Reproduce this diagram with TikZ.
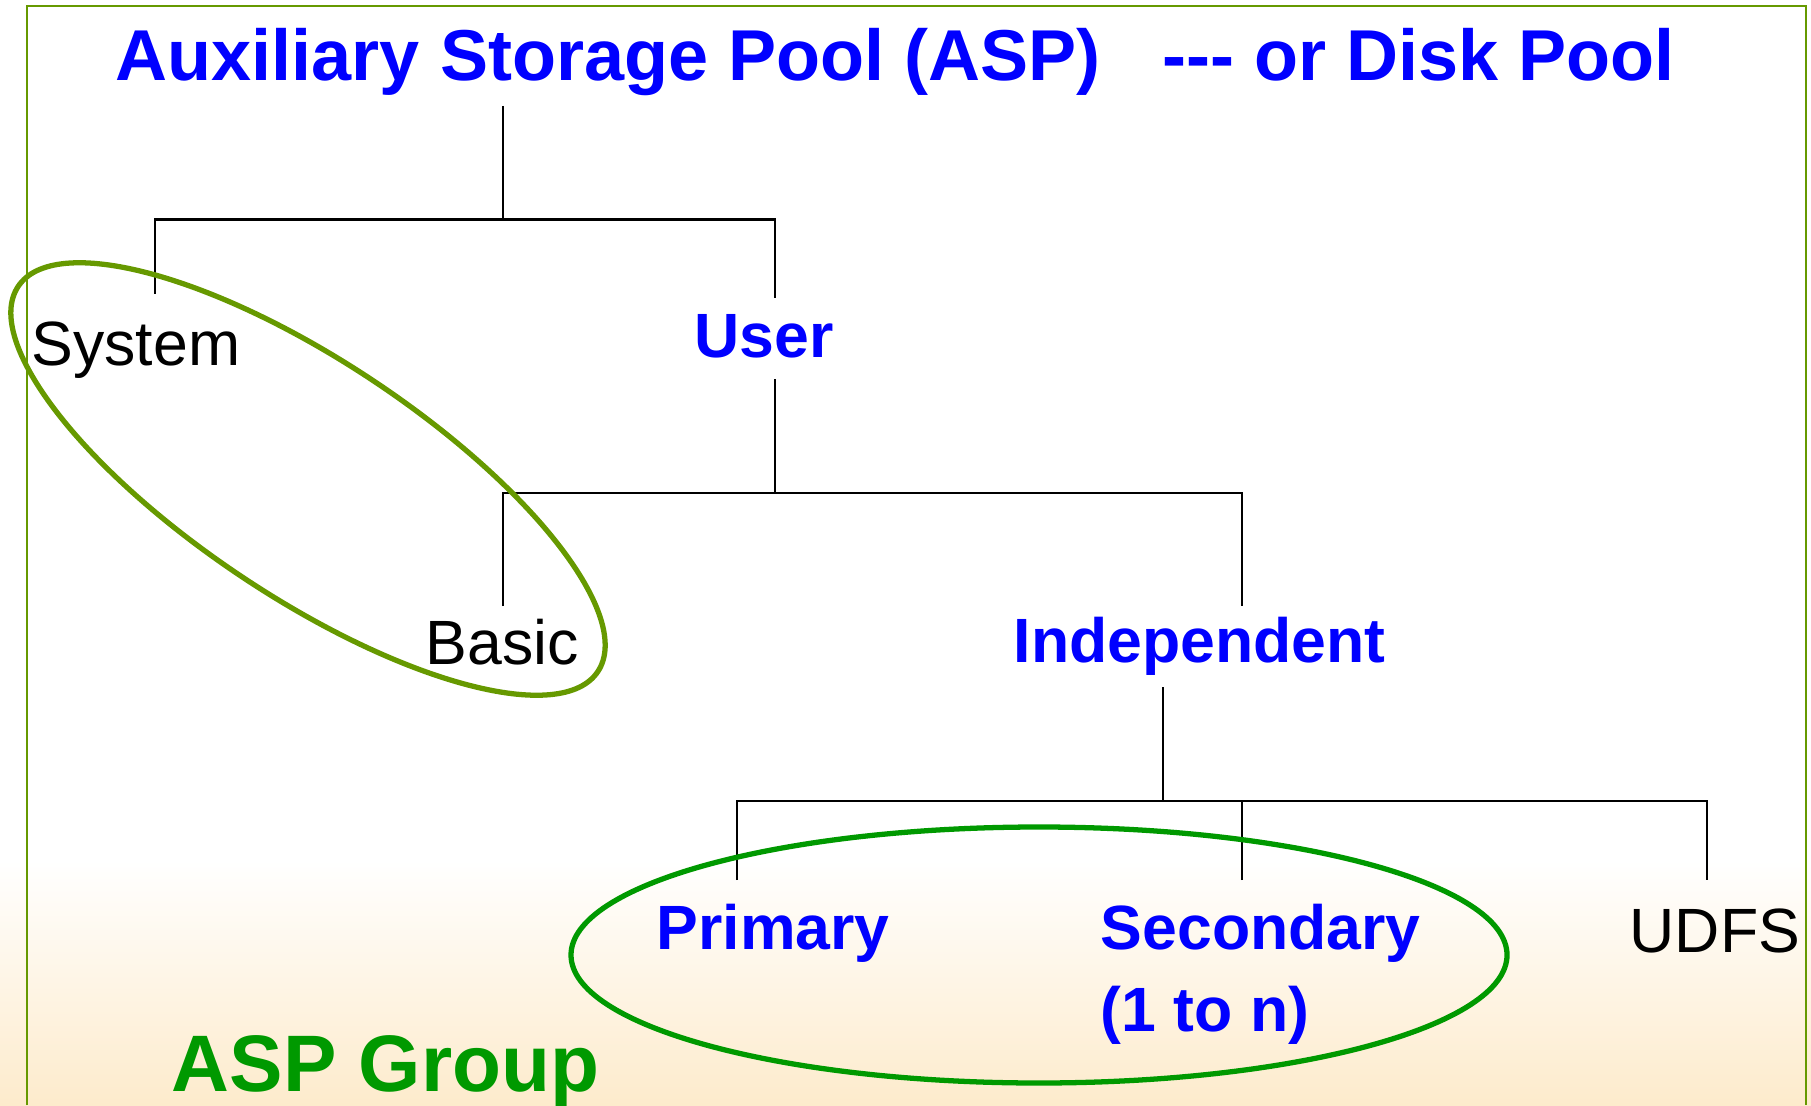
\documentclass[tikz,border=0pt]{standalone}
\usepackage{fontspec}
\setmainfont{Liberation Sans}
\usepackage{tikz}

\definecolor{aspblue}{RGB}{0,0,255}
\definecolor{aspgreen}{RGB}{0,153,0}
\definecolor{aspolive}{RGB}{102,153,0}
\definecolor{aspcream}{RGB}{253,235,204}

\begin{document}
\begin{tikzpicture}[>=latex,
		every node/.style={inner sep=0pt, anchor=base west, font=\fontsize{17.8}{21}\selectfont},
		pool/.style={text=aspblue, font=\fontsize{17.8}{21}\selectfont\bfseries},
		plain/.style={text=black},
		branch/.style={black, line width=0.7pt}]
	\useasboundingbox (0,0) rectangle (18.11,11.05);
	\shade[top color=white, bottom color=aspcream] (0,0) rectangle (18.11,2.45);
	\draw[aspolive, line width=0.7pt] (0.27,0) -- (0.27,10.99) -- (18.06,10.99) -- (18.06,0);

	\node[text=aspblue, font=\fontsize{20.5}{24}\selectfont\bfseries] (title) at (1.15,10.24)
		{Auxiliary Storage Pool (ASP)\hspace{0.62cm}{-}{-}{-} or Disk Pool};

	\node[plain] (sys) at (0.31,7.40) {System};
	\node[pool] (user) at (6.94,7.47) {User};
	\node[plain] (basic) at (4.25,4.41) {Basic};
	\node[pool] (ind) at (10.13,4.43) {Independent};
	\node[pool] (pri) at (6.56,1.56) {Primary};
	\node[pool] (sec) at (11.00,1.56) {Secondary};
	\node[pool] (secn) at (11.00,0.74) {(1 to n)};
	\node[plain] (udfs) at (16.29,1.53) {UDFS};
	\node[text=aspgreen, font=\fontsize{22.8}{27}\selectfont\bfseries] (grp) at (1.71,0.14) {ASP Group};

	\coordinate (tfoot) at (5.03,9.99);
	\coordinate (j1) at (5.03,8.855);
	\coordinate (systop) at (1.55,8.11);
	\coordinate (usertop) at (7.75,8.07);
	\coordinate (userfoot) at (7.75,7.26);
	\coordinate (j2) at (7.75,6.12);
	\coordinate (basictop) at (5.03,4.99);
	\coordinate (indtop) at (12.42,4.99);
	\coordinate (indfoot) at (11.63,4.18);
	\coordinate (j3) at (11.63,3.04);
	\coordinate (pritop) at (7.37,2.25);
	\coordinate (sectop) at (12.42,2.25);
	\coordinate (udfstop) at (17.07,2.25);

	\draw[branch] (tfoot) -- (j1);
	\draw[branch] (systop) |- (j1) -| (usertop);
	\draw[branch] (userfoot) -- (j2);
	\draw[branch] (basictop) |- (j2) -| (indtop);
	\draw[branch] (indfoot) -- (j3);
	\draw[branch] (pritop) |- (j3) -| (udfstop);
	\draw[branch] (sectop) -- (sectop |- j3);

	\draw[aspolive, line width=1.5pt, rotate around={-33.6:(3.08,6.26)}] (3.08,6.26) ellipse (3.48 and 1.18);
	\draw[aspgreen, line width=1.5pt] (10.39,1.50) ellipse (4.68 and 1.28);
\end{tikzpicture}
\end{document}
